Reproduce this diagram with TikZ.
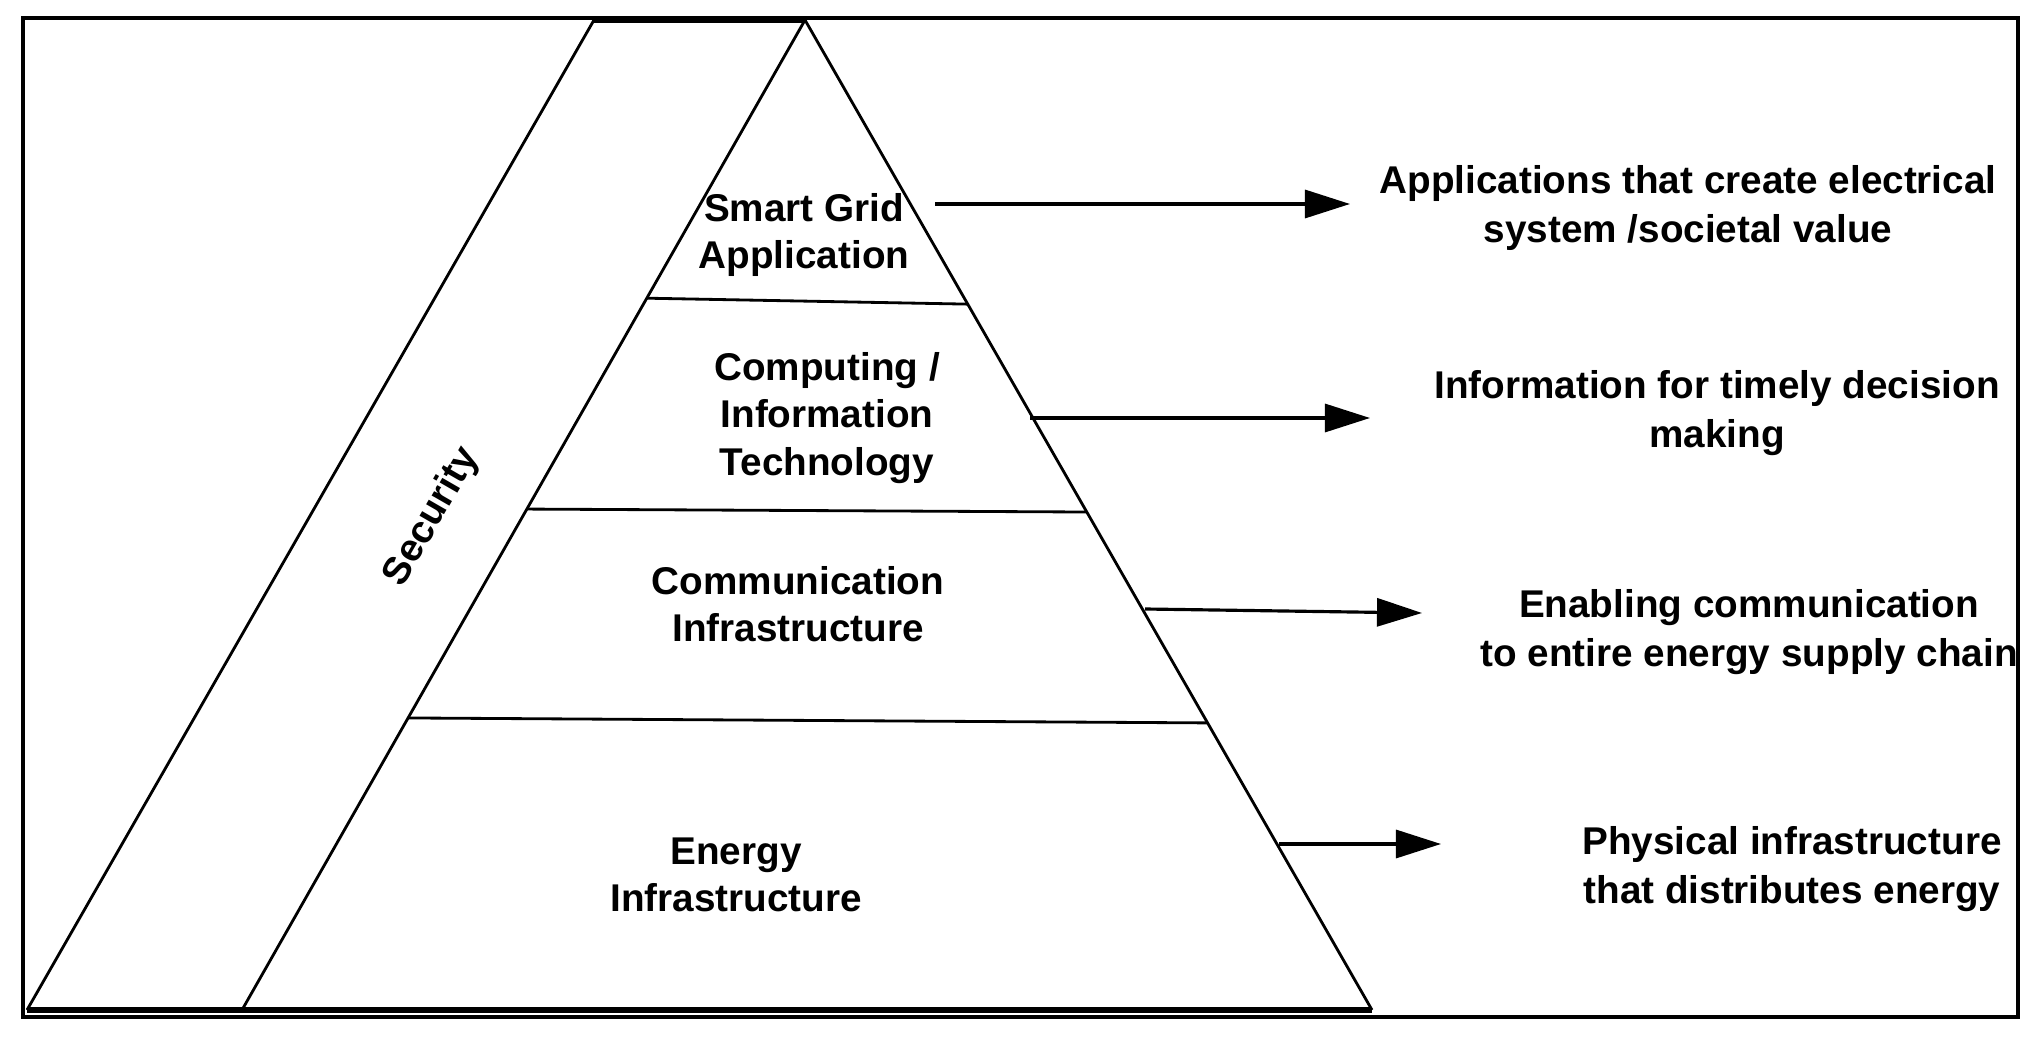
\documentclass[tikz,border=0pt]{standalone}
\usepackage{fontspec}
\setmainfont{Liberation Sans}
\usetikzlibrary{arrows.meta,calc}
\tikzset{
  layer/.style={align=center,inner sep=0pt,font=\bfseries\fontsize{11}{13.5}\selectfont},
  effect/.style={align=center,inner sep=0pt,font=\bfseries\fontsize{11}{13.7}\selectfont},
  flow/.style={-{Triangle[length=.45cm,width=.28cm]},line width=.9pt},
}
\begin{document}
\begin{tikzpicture}[x=.01cm,y=-.01cm,line width=.8pt]
\useasboundingbox (0,0) rectangle (2036,1040);
\draw[line width=1.3pt] (23,18) rectangle (2018,1017);

\coordinate (apex) at (805,20);
\coordinate (otop) at (594,20);
\coordinate (obot) at (27,1010);
\coordinate (lbot) at (242,1010);
\coordinate (rbot) at (1372,1010);

\draw (otop) -- (obot);
\draw (apex) -- (lbot);
\draw (apex) -- (rbot);
\draw[line width=1.6pt] (otop) -- (apex);
\draw[line width=1.6pt] (obot) -- (rbot);

\draw ($(apex)!.281!(lbot)$) -- ($(apex)!.287!(rbot)$);
\draw ($(apex)!.494!(lbot)$) -- ($(apex)!.497!(rbot)$);
\draw ($(apex)!.705!(lbot)$) -- ($(apex)!.710!(rbot)$);

\node[layer] (sga) at (804,235) {Smart Grid\\Application};
\node[layer] (cit) at (827,418) {Computing /\\Information\\Technology};
\node[layer] (com) at (798,604) {Communication\\Infrastructure};
\node[layer] (eng) at (736,875) {Energy\\Infrastructure};
\node[layer,rotate=60] (sec) at (432,517) {Security};

\node[effect] (val) at (1688,208) {Applications that create electrical\\system /societal value};
\node[effect] (dec) at (1717,413) {Information for timely decision\\making};
\node[effect] (chn) at (1749,632) {Enabling communication\\to entire energy supply chain};
\node[effect] (phy) at (1792,869) {Physical infrastructure\\that distributes energy};

\coordinate (a1) at (935,204);  \coordinate (b1) at (1350,204);
\coordinate (a2) at (1030,418); \coordinate (b2) at (1370,418);
\coordinate (a3) at (1145,609); \coordinate (b3) at (1422,613);
\coordinate (a4) at (1279,844); \coordinate (b4) at (1441,844);

\draw[flow] (a1) -- (b1);
\draw[flow] (a2) -- (b2);
\draw[flow] (a3) -- (b3);
\draw[flow] (a4) -- (b4);
\end{tikzpicture}
\end{document}
